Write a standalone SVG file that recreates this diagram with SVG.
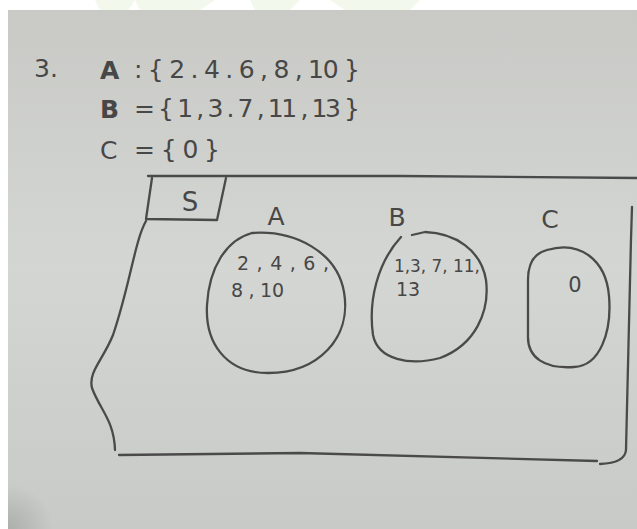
<svg xmlns="http://www.w3.org/2000/svg" width="637" height="529" viewBox="0 0 637 529">
<style>
.ink{fill:none;stroke:#4a4a4a;stroke-width:2.3;stroke-linecap:round;stroke-linejoin:round}
.hw{font-family:"DejaVu Sans","Liberation Sans",sans-serif;fill:#474747}
.big{font-size:25px}
.sm{font-size:19px}
</style>
<defs>
<linearGradient id="paper" x1="0" y1="0" x2="0" y2="1">
<stop offset="0" stop-color="#c9cac6"/>
<stop offset="0.5" stop-color="#d4d6d3"/>
<stop offset="1" stop-color="#c8cac7"/>
</linearGradient>
<radialGradient id="corner" cx="0" cy="1" r="0.5">
<stop offset="0" stop-color="#9a9c99" stop-opacity="0.6"/>
<stop offset="1" stop-color="#9a9c99" stop-opacity="0"/>
</radialGradient>
</defs>
<rect width="637" height="529" fill="#ffffff"/>
<path d="M95,0 L135,0 L128,10 L100,10 Z M135,0 L215,0 L200,10 L140,10 Z M250,0 L300,0 L290,10 L255,10 Z M330,0 L420,0 L410,10 L345,10 Z" fill="#e6f2d8" opacity="0.5"/>
<rect x="8" y="10" width="629" height="519" fill="url(#paper)"/>
<rect x="8" y="440" width="90" height="89" fill="url(#corner)"/>

<g id="sets-text">
<text class="hw big" x="34" y="77">3.</text>
<text class="hw big" x="100" y="79" font-weight="bold">A</text>
<text class="hw big" x="134" y="78" textLength="226" lengthAdjust="spacing">: { 2 . 4 . 6 , 8 , 10 }</text>
<text class="hw big" x="100" y="118" font-weight="bold">B</text>
<text class="hw big" x="134" y="117" textLength="226" lengthAdjust="spacing">= { 1 , 3 . 7 , 11 , 13 }</text>
<text class="hw big" x="100" y="159">C</text>
<text class="hw big" x="134" y="158" textLength="86" lengthAdjust="spacing">= { 0 }</text>
</g>

<g id="universe">
<path class="ink" d="M148,176 L400,176 L637,178"/>
<path class="ink" d="M152,178 L146,219 L217,220 L226,178"/>
<text class="hw" x="190" y="211" font-size="26" text-anchor="middle">S</text>
<path class="ink" d="M146,221 C135,240 130,285 113,335 C103,360 88,372 92,388 C100,410 114,420 115,450"/>
<path class="ink" d="M119,455 L300,453 L597,461"/>
<path class="ink" d="M632,207 C629,300 627,400 626,450 Q625,463 600,464"/>
</g>

<g id="set-A">
<text class="hw big" x="276" y="225" text-anchor="middle">A</text>
<path class="ink" d="M252,233 C295,230 337,252 344,292 C352,338 318,373 268,373 C225,373 205,342 207,305 C209,268 226,240 252,233"/>
<text class="hw sm" x="237" y="270" textLength="92" lengthAdjust="spacing">2 , 4 , 6 ,</text>
<text class="hw sm" x="231" y="297" textLength="53" lengthAdjust="spacing">8 , 10</text>
</g>

<g id="set-B">
<text class="hw big" x="397" y="226" text-anchor="middle">B</text>
<path class="ink" d="M401,237 C378,262 368,300 373,335 C378,360 410,366 440,358 C475,345 490,312 486,280 C481,250 455,233 425,232 L412,235"/>
<text class="hw" x="394" y="272" font-size="17" textLength="86" lengthAdjust="spacingAndGlyphs">1,3, 7, 11,</text>
<text class="hw sm" x="396" y="296">13</text>
</g>

<g id="set-C">
<text class="hw big" x="550" y="228" text-anchor="middle">C</text>
<path class="ink" d="M547,250 C580,240 606,260 609,296 C612,332 600,366 574,367 C545,369 527,358 528,335 L528,280 C528,262 535,253 547,250"/>
<text class="hw" x="575" y="292" font-size="21" text-anchor="middle">0</text>
</g>
</svg>
